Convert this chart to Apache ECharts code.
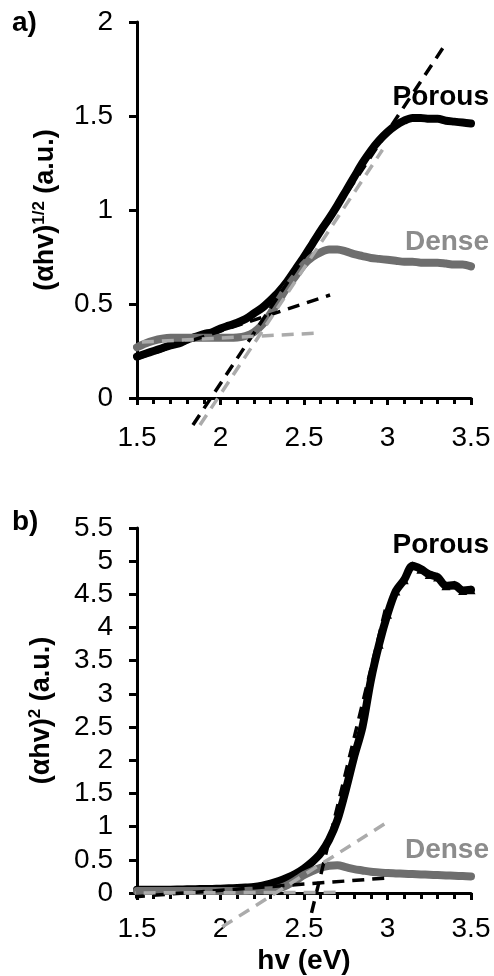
<!DOCTYPE html>
<html>
<head>
<meta charset="utf-8">
<script src="https://cdn.jsdelivr.net/npm/echarts@6/dist/echarts.min.js"></script>
<style>
  html, body { margin: 0; padding: 0; background: #fff; }
  #chart { width: 494px; height: 976px; }
</style>
</head>
<body>
<div id="chart"></div>
<script>
// photon energy (eV), 0.05 step
var hv = [1.50,1.55,1.60,1.65,1.70,1.75,1.80,1.85,1.90,1.95,2.00,2.05,2.10,2.15,2.20,2.25,2.30,2.35,2.40,2.45,
          2.50,2.55,2.60,2.65,2.70,2.75,2.80,2.85,2.90,2.95,3.00,3.05,3.10,3.15,3.20,3.25,3.30,3.35,3.40,3.45,3.50];

// a) (ahv)^1/2
var porousA = [0.22,0.235,0.25,0.265,0.28,0.29,0.31,0.325,0.34,0.35,0.37,0.385,0.40,0.42,0.45,0.48,0.52,0.565,0.62,0.685,
               0.75,0.82,0.89,0.955,1.025,1.10,1.175,1.25,1.315,1.37,1.415,1.45,1.475,1.49,1.49,1.485,1.485,1.475,1.47,1.465,1.46];
var denseA  = [0.27,0.29,0.305,0.315,0.32,0.32,0.32,0.32,0.32,0.32,0.32,0.32,0.322,0.33,0.35,0.39,0.45,0.52,0.59,0.65,
               0.71,0.75,0.775,0.79,0.79,0.78,0.765,0.755,0.745,0.74,0.735,0.73,0.725,0.725,0.72,0.72,0.72,0.715,0.71,0.71,0.70];

// b) (ahv)^2
var porousB = [0.05,0.05,0.05,0.05,0.05,0.052,0.055,0.058,0.06,0.062,0.065,0.07,0.075,0.082,0.09,0.11,0.14,0.18,0.23,0.29,
               0.37,0.47,0.60,0.80,1.10,1.55,2.05,2.50,3.20,3.75,4.20,4.55,4.72,4.93,4.88,4.80,4.76,4.63,4.64,4.56,4.57];
var denseB  = [0.03,0.03,0.03,0.03,0.03,0.03,0.03,0.03,0.03,0.03,0.03,0.03,0.03,0.032,0.035,0.038,0.04,0.07,0.12,0.19,
               0.27,0.33,0.38,0.41,0.42,0.39,0.36,0.34,0.32,0.31,0.30,0.295,0.29,0.285,0.28,0.275,0.27,0.265,0.26,0.255,0.25];

// tangent / fit lines: [[x0, y0], [x1, y1]]
var fitA = {
  porousSteep: [[1.835, -0.144], [3.356, 1.894]],
  denseSteep:  [[1.877, -0.144], [2.97, 1.32]],
  porousBase:  [[1.38, 0.175], [2.656, 0.548]],
  denseBase:   [[1.29, 0.287], [2.58, 0.345]]
};
var fitB = {
  porousSteep: [[2.545, -0.3], [2.99, 4.3]],
  denseSteep:  [[2.01, -0.51], [3.0, 1.07]],
  porousBase:  [[1.356, -0.08], [3.015, 0.23]],
  denseBase:   [[1.30, 0.0], [2.73, 0.01]]
};

var xTicks = [1.5, 2, 2.5, 3, 3.5];
var yTicksA = [0, 0.5, 1, 1.5, 2];
var yTicksB = [0, 0.5, 1, 1.5, 2, 2.5, 3, 3.5, 4, 4.5, 5, 5.5];

function pairs(xs, ys) {
  return xs.map(function (x, i) { return [x, ys[i]]; });
}

var FONT = "'Liberation Sans', Arial, sans-serif";
var BLACK = '#000';
var DARKGRAY = '#6e6e6e';
var LIGHTGRAY = '#ababab';

function xAxis(idx, margin, name) {
  return {
    type: 'value', gridIndex: idx,
    min: xTicks[0], max: xTicks[xTicks.length - 1], interval: 0.5,
    axisLine: { show: true, onZero: false, lineStyle: { color: BLACK, width: 3 } },
    axisTick: { show: true, inside: false, length: 7, lineStyle: { color: BLACK, width: 3 } },
    minorTick: { show: true, splitNumber: 5, length: 6, lineStyle: { color: BLACK, width: 3 } },
    splitLine: { show: false },
    axisLabel: { margin: margin, color: BLACK, fontFamily: FONT, fontSize: 28, showMinLabel: true, showMaxLabel: true },
    name: name || '',
    nameLocation: 'middle',
    nameGap: 54,
    nameTextStyle: { color: BLACK, fontFamily: FONT, fontSize: 28, fontWeight: 'bold' }
  };
}

function yAxis(idx, ticks, name, gap) {
  return {
    type: 'value', gridIndex: idx,
    min: 0, max: ticks[ticks.length - 1], interval: 0.5,
    axisLine: { show: true, lineStyle: { color: BLACK, width: 3 } },
    axisTick: { show: true, inside: false, length: 8, lineStyle: { color: BLACK, width: 3 } },
    splitLine: { show: false },
    axisLabel: { margin: 24, color: BLACK, fontFamily: FONT, fontSize: 28, showMinLabel: true, showMaxLabel: true },
    name: name,
    nameLocation: 'middle',
    nameGap: gap,
    nameTextStyle: {
      color: BLACK, fontFamily: FONT, fontSize: 27, fontWeight: 'bold', lineHeight: 30,
      rich: { sup: { fontFamily: FONT, fontSize: 17, fontWeight: 'bold', verticalAlign: 'top', lineHeight: 30, color: BLACK } }
    }
  };
}

function curve(idx, data, color, width, sym) {
  return {
    type: 'line', xAxisIndex: idx, yAxisIndex: idx, data: data,
    showSymbol: !!sym, symbol: sym || 'none',
    // noisy triangle markers only show on the plateau
    symbolSize: function (v) { return v[0] >= 2.95 ? 9 : 0; },
    smooth: 0.3, z: 2,
    itemStyle: { color: color },
    lineStyle: { color: color, width: width, cap: 'round', join: 'round' }
  };
}

function dashed(idx, data, color) {
  return {
    type: 'line', xAxisIndex: idx, yAxisIndex: idx, data: data,
    showSymbol: false, clip: false, z: 3,
    lineStyle: { color: color, width: 3.5, type: [12, 8] }
  };
}

function label(text, x, y, color, align) {
  return {
    type: 'text', x: x, y: y,
    style: { text: text, fill: color, font: 'bold 28px ' + FONT, textAlign: align || 'right', textVerticalAlign: 'middle' }
  };
}

var chart = echarts.init(document.getElementById('chart'));
chart.setOption({
  backgroundColor: '#fff',
  animation: false,
  grid: [
    { left: 137, right: 23, top: 22, height: 376 },
    { left: 137, right: 23, top: 528, height: 365 }
  ],
  xAxis: [xAxis(0, 26), xAxis(1, 22, 'hv (eV)')],
  yAxis: [
    yAxis(0, yTicksA, '(αhv){sup|1/2} (a.u.)', 76),
    yAxis(1, yTicksB, '(αhv){sup|2} (a.u.)', 80)
  ],
  series: [
    curve(0, pairs(hv, porousA), BLACK, 8),
    curve(0, pairs(hv, denseA), DARKGRAY, 8),
    dashed(0, fitA.porousSteep, BLACK),
    dashed(0, fitA.porousBase, BLACK),
    dashed(0, fitA.denseSteep, LIGHTGRAY),
    dashed(0, fitA.denseBase, LIGHTGRAY),
    curve(1, pairs(hv, porousB), BLACK, 8, 'triangle'),
    curve(1, pairs(hv, denseB), DARKGRAY, 8),
    dashed(1, fitB.porousSteep, BLACK),
    dashed(1, fitB.porousBase, BLACK),
    dashed(1, fitB.denseSteep, LIGHTGRAY),
    dashed(1, fitB.denseBase, LIGHTGRAY)
  ],
  graphic: [
    label('a)', 12, 23, BLACK, 'left'),
    label('b)', 12, 522, BLACK, 'left'),
    label('Porous', 489, 97, BLACK),
    label('Dense', 489, 242, '#8c8c8c'),
    label('Porous', 489, 545, BLACK),
    label('Dense', 489, 850, '#8c8c8c')
  ]
});
</script>
</body>
</html>
